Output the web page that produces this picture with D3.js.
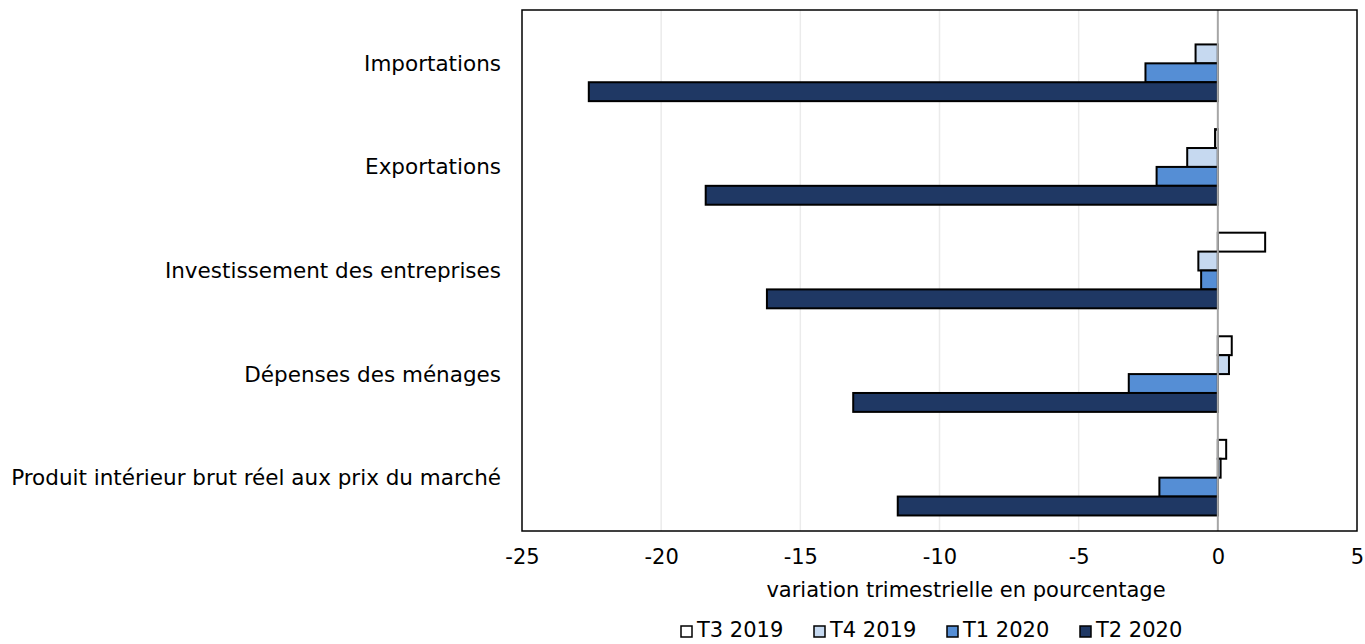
<!DOCTYPE html>
<html>
<head>
<meta charset="utf-8">
<script src="https://cdn.jsdelivr.net/npm/d3@7"></script>
<style>
  body { margin: 0; background: #fff; }
  text { font-family: "DejaVu Sans", Verdana, sans-serif; fill: #000; }
</style>
</head>
<body>
<div id="chart"></div>
<script>
var categories = ["Importations", "Exportations", "Investissement des entreprises", "Dépenses des ménages", "Produit intérieur brut réel aux prix du marché"]
var seriesNames = ["T3 2019", "T4 2019", "T1 2020", "T2 2020"]
var t3_2019 = [0.0, -0.1, 1.7, 0.5, 0.3]
var t4_2019 = [-0.8, -1.1, -0.7, 0.4, 0.1]
var t1_2020 = [-2.6, -2.2, -0.6, -3.2, -2.1]
var t2_2020 = [-22.6, -18.4, -16.2, -13.1, -11.5]
var xTicks = [-25, -20, -15, -10, -5, 0, 5]
var colors = ["#ffffff", "#c6d9f0", "#558ed5", "#1f3864"]

var allSeries = [t3_2019, t4_2019, t1_2020, t2_2020]

var width = 1365, height = 644
var margin = { top: 10, right: 8, bottom: 113, left: 522 }
var innerW = width - margin.left - margin.right,
    innerH = height - margin.top - margin.bottom

var fontSize = "21px"

var svg = d3.select("#chart").append("svg")
    .attr("width", width)
    .attr("height", height)

var g = svg.append("g")
    .attr("transform", "translate(" + margin.left + "," + margin.top + ")")

var x = d3.scaleLinear().domain([-25, 5]).range([0, innerW])
var y0 = d3.scaleBand().domain(categories).range([0, innerH]).paddingInner(0.27).paddingOuter(0.15)
var y1 = d3.scaleBand().domain(seriesNames).range([0, y0.bandwidth()])

// gridlines
g.selectAll(".grid")
  .data(xTicks.filter(function(d) { return d !== 0 && d !== -25 && d !== 5 }))
  .enter().append("line")
  .attr("x1", function(d) { return x(d) })
  .attr("x2", function(d) { return x(d) })
  .attr("y1", 0).attr("y2", innerH)
  .attr("stroke", "#ebebeb").attr("stroke-width", 1.5)

// bars
var rows = []
categories.forEach(function(c, i) {
  seriesNames.forEach(function(s, j) {
    rows.push({ cat: c, series: s, value: allSeries[j][i], color: colors[j] })
  })
})

g.selectAll(".bar")
  .data(rows.filter(function(d) { return d.value !== 0 }))
  .enter().append("rect")
  .attr("x", function(d) { return x(Math.min(0, d.value)) })
  .attr("width", function(d) { return Math.abs(x(d.value) - x(0)) })
  .attr("y", function(d) { return y0(d.cat) + y1(d.series) })
  .attr("height", y1.bandwidth())
  .attr("fill", function(d) { return d.color })
  .attr("stroke", "#000").attr("stroke-width", 2)

// zero line
g.append("line")
  .attr("x1", x(0)).attr("x2", x(0))
  .attr("y1", 0).attr("y2", innerH)
  .attr("stroke", "#a6a6a6").attr("stroke-width", 2)

// frame
g.append("rect")
  .attr("width", innerW).attr("height", innerH)
  .attr("fill", "none").attr("stroke", "#000").attr("stroke-width", 1.5)

// x axis
var xAxis = d3.axisBottom(x).tickValues(xTicks).tickSize(0).tickPadding(18)
  .tickFormat(function(d) { return String(d) })
var ax = g.append("g")
  .attr("transform", "translate(0," + innerH + ")")
  .call(xAxis)
ax.select(".domain").remove()
ax.selectAll("text").style("font-size", fontSize).style("font-family", "DejaVu Sans, Verdana, sans-serif")

// category labels
g.selectAll(".cat")
  .data(categories)
  .enter().append("text")
  .attr("x", -21)
  .attr("y", function(d) { return y0(d) + y0.bandwidth() / 2 })
  .attr("dy", "0.35em")
  .attr("text-anchor", "end")
  .style("font-size", "21.5px")
  .text(function(d) { return d })

// axis title
svg.append("text")
  .attr("x", 966)
  .attr("y", margin.top + innerH + 59)
  .attr("dy", "0.35em")
  .attr("text-anchor", "middle")
  .style("font-size", fontSize)
  .text("variation trimestrielle en pourcentage")

// legend
var legend = svg.append("g")
  .attr("transform", "translate(681," + 630 + ")")
var item = legend.selectAll(".item")
  .data(seriesNames)
  .enter().append("g")
  .attr("transform", function(d, i) { return "translate(" + (i * 133) + ",0)" })
item.append("rect")
  .attr("x", 0).attr("y", -4)
  .attr("width", 11).attr("height", 11)
  .attr("fill", function(d, i) { return colors[i] })
  .attr("stroke", "#000").attr("stroke-width", 1.5)
item.append("text")
  .attr("x", 16).attr("y", 0)
  .attr("dy", "0.35em")
  .style("font-size", fontSize)
  .text(function(d) { return d })
</script>
</body>
</html>
